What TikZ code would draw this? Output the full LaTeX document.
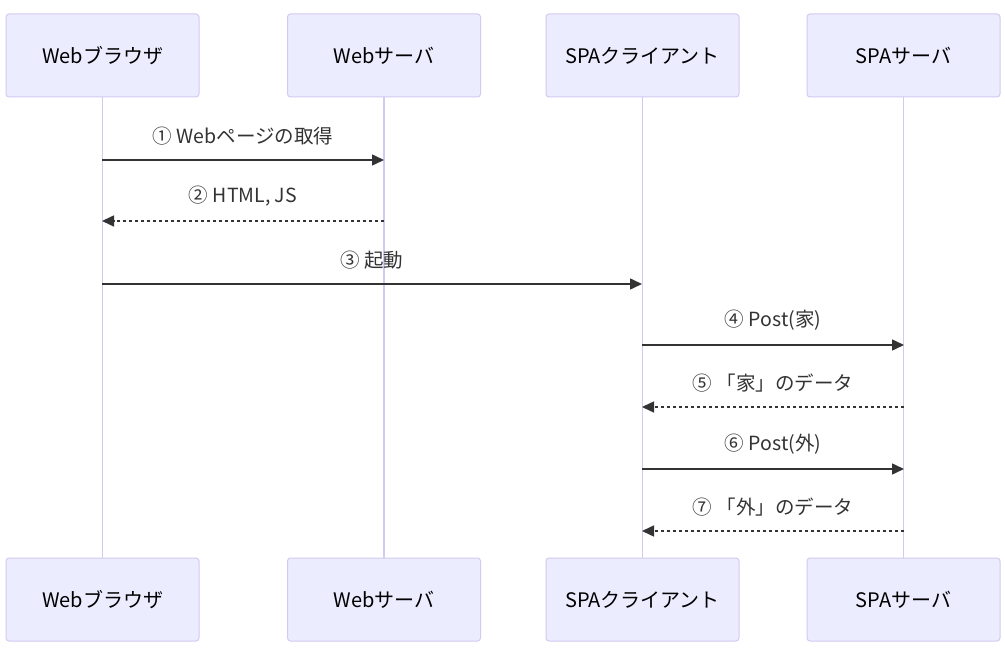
\documentclass[tikz,border=0pt]{standalone}
\usepackage{fontspec}
\setmainfont{Noto Sans CJK JP}
\usetikzlibrary{arrows.meta}

\definecolor{actfill}{HTML}{ECECFF}
\definecolor{actline}{HTML}{D3C9F2}
\definecolor{msgline}{HTML}{333333}

\tikzset{
    actor/.style={draw=actline, fill=actfill, line width=1pt, rounded corners=3pt,
        minimum width=193, minimum height=83, font=\fontsize{20}{24}\selectfont},
    lifeline/.style={draw=actline, line width=1.8pt},
    msg/.style={draw=msgline, line width=1.5pt, -{Triangle[length=12pt,width=11pt]}},
    reply/.style={msg, dash pattern=on 3pt off 3pt},
    msglabel/.style={text=msgline, font=\fontsize{19.5}{23}\selectfont}
}

\begin{document}
\begin{tikzpicture}[x=1pt, y=-1pt]
    \useasboundingbox (0,0) rectangle (1005,652);

    % Actors (top)
    \node[actor] (browser) at (102.5,55.5) {Webブラウザ};
    \node[actor] (websrv)  at (384,55.5)   {Webサーバ};
    \node[actor] (client)  at (642.5,55.5) {SPAクライアント};
    \node[actor] (spasrv)  at (903.5,55.5) {SPAサーバ};

    % Actors (bottom)
    \node[actor] (browserB) at (102.5,599.5) {Webブラウザ};
    \node[actor] (websrvB)  at (384,599.5)   {Webサーバ};
    \node[actor] (clientB)  at (642.5,599.5) {SPAクライアント};
    \node[actor] (spasrvB)  at (903.5,599.5) {SPAサーバ};

    % Lifelines
    \draw[lifeline] (browser) -- (browserB);
    \draw[lifeline] (websrv) -- (websrvB);
    \draw[lifeline] (client) -- (clientB);
    \draw[lifeline] (spasrv) -- (spasrvB);

    % Message end points
    \coordinate (b1) at (102,160);  \coordinate (w1) at (384,160);
    \coordinate (b2) at (102,221);  \coordinate (w2) at (384,221);
    \coordinate (b3) at (102,284);  \coordinate (c3) at (642,284);
    \coordinate (c4) at (642,345);  \coordinate (s4) at (904,345);
    \coordinate (c5) at (642,407);  \coordinate (s5) at (904,407);
    \coordinate (c6) at (642,469);  \coordinate (s6) at (904,469);
    \coordinate (c7) at (642,531);  \coordinate (s7) at (904,531);

    % Messages
    \draw[msg] (b1) -- (w1) node[msglabel, midway, above=11pt] {① Webページの取得};
    \draw[reply] (w2) -- (b2) node[msglabel, midway, above=11pt] {② HTML, JS};
    \draw[msg] (b3) -- (c3) node[msglabel, midway, above=11pt] {③ 起動};
    \draw[msg] (c4) -- (s4) node[msglabel, midway, above=11pt] {④ Post(家)};
    \draw[reply] (s5) -- (c5) node[msglabel, midway, above=11pt] {⑤ 「家」のデータ};
    \draw[msg] (c6) -- (s6) node[msglabel, midway, above=11pt] {⑥ Post(外)};
    \draw[reply] (s7) -- (c7) node[msglabel, midway, above=11pt] {⑦ 「外」のデータ};

\end{tikzpicture}
\end{document}
